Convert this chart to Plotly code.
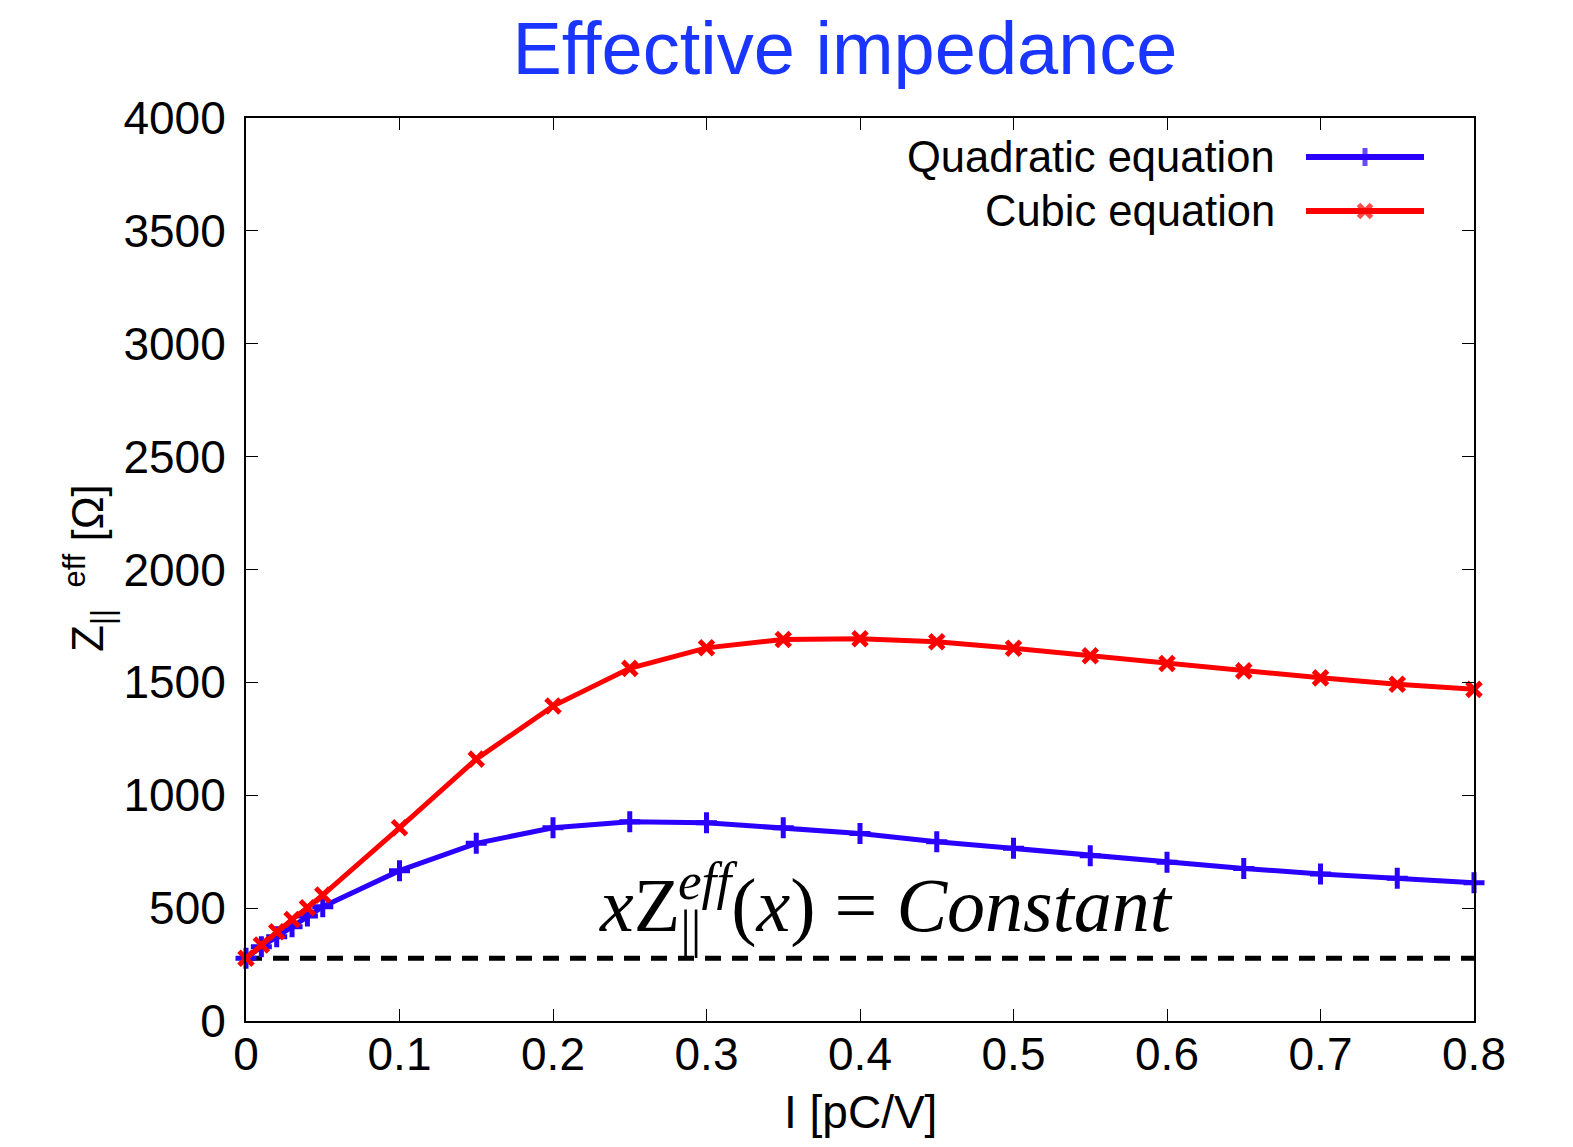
import plotly.graph_objects as go

# Beam intensity I [pC/V]
intensity = [0.0, 0.01, 0.02, 0.03, 0.04, 0.05, 0.1, 0.15, 0.2, 0.25, 0.3, 0.35,
             0.4, 0.45, 0.5, 0.55, 0.6, 0.65, 0.7, 0.75, 0.8]

# Effective impedance [Ohm] from the two models
z_quadratic = [278, 329, 373, 418, 465, 506, 666, 787, 856, 883, 878, 856,
               831, 794, 765, 732, 703, 676, 651, 632, 612]
z_cubic = [278, 337, 395, 450, 502, 558, 856, 1160, 1395, 1562, 1653, 1690,
           1693, 1680, 1651, 1618, 1584, 1551, 1520, 1492, 1469]

# Constant-product reference level
z_const = 278

y_ticks = [0, 500, 1000, 1500, 2000, 2500, 3000, 3500, 4000]
x_ticks = [0, 0.1, 0.2, 0.3, 0.4, 0.5, 0.6, 0.7, 0.8]

W, H = 1573, 1147
L, R, T, B = 246, 1474, 118, 1021          # plot-area edges in pixels
PW, PH = R - L, B - T


def px(xp):
    return (xp - L) / PW


def py(yp):
    return (B - yp) / PH


SANS = "Liberation Sans, Arial, sans-serif"
SERIF = "Liberation Serif, Times New Roman, serif"
BLUE = "#2a00ff"
RED = "#ff0000"
CLEAR = "rgba(0,0,0,0)"

fig = go.Figure()

fig.add_trace(go.Scatter(
    x=[intensity[0], intensity[-1]], y=[z_const, z_const], mode="lines",
    line=dict(color="black", width=5, dash="16px,11px"),
    showlegend=False, cliponaxis=False))

fig.add_trace(go.Scatter(
    x=intensity, y=z_quadratic, mode="lines+markers", name="Quadratic equation",
    line=dict(color=BLUE, width=5),
    marker=dict(symbol="cross-thin", size=15, line=dict(color=BLUE, width=5)),
    showlegend=False, cliponaxis=False))

fig.add_trace(go.Scatter(
    x=intensity, y=z_cubic, mode="lines+markers", name="Cubic equation",
    line=dict(color=RED, width=5),
    marker=dict(symbol="x-thin", size=14, line=dict(color=RED, width=5)),
    showlegend=False, cliponaxis=False))

# Key samples (text on the left, line sample with marker on the right)
keys = [("Quadratic equation", BLUE, "cross-thin", 157),
        ("Cubic equation", RED, "x-thin", 211)]
for label, col, sym, yk in keys:
    fig.add_trace(go.Scatter(
        x=[px(1306), px(1365), px(1424)], y=[py(yk)] * 3,
        xaxis="x2", yaxis="y2", mode="lines+markers",
        line=dict(color=col, width=6),
        marker=dict(symbol=sym, size=[0, 13, 0], line=dict(color=col, width=5)),
        showlegend=False, hoverinfo="skip", cliponaxis=False))
    fig.add_annotation(x=px(1277), y=py(yk), xref="paper", yref="paper",
                       xanchor="right", yanchor="middle", showarrow=False,
                       text=label, font=dict(family=SANS, size=43.5, color="black"))

axis_common = dict(showline=True, linecolor="black", linewidth=2, mirror="allticks",
                   ticks="inside", ticklen=12, tickwidth=1, tickcolor="black",
                   showgrid=False, zeroline=False,
                   tickfont=dict(family=SANS, size=46, color="black"))

fig.update_layout(
    width=W, height=H,
    margin=dict(l=L, r=W - R, t=T, b=H - B),
    paper_bgcolor="white", plot_bgcolor="white",
    title=dict(text="Effective impedance", x=845 / W, xref="container", xanchor="center",
               y=1 - 48 / H, yref="container", yanchor="middle",
               font=dict(family=SANS, size=74, color="#1a35ff")),
    xaxis=dict(range=[0, 0.8], tickvals=x_ticks, ticktext=[f"{v:g}" for v in x_ticks],
               ticklabelstandoff=-8, **axis_common),
    yaxis=dict(range=[0, 4000], tickvals=y_ticks, ticklabelstandoff=9, **axis_common),
    xaxis2=dict(overlaying="x", range=[0, 1], visible=False),
    yaxis2=dict(overlaying="y", range=[0, 1], visible=False),
    showlegend=False,
)

# x-axis title
fig.add_annotation(x=px(860), y=py(1112), xref="paper", yref="paper",
                   xanchor="center", yanchor="middle", showarrow=False,
                   text="I [pC/V]", font=dict(family=SANS, size=46, color="black"))

# y-axis title: Z with stacked || subscript and eff superscript
ghost = f"<span style='color:{CLEAR}'>"
fig.add_annotation(x=px(88), y=py(598), xref="paper", yref="paper",
                   xanchor="center", yanchor="top", showarrow=False, textangle=-90,
                   text=f"Z<sub>||</sub><sup>{ghost}f</span></sup>",
                   font=dict(family=SANS, size=44, color="black"))
fig.add_annotation(x=px(88), y=py(598), xref="paper", yref="paper",
                   xanchor="center", yanchor="bottom", showarrow=False, textangle=-90,
                   text=f"<sub>{ghost}|</span></sub><sup>eff</sup> [Ω]",
                   font=dict(family=SANS, size=44, color="black"))

# Relation x·Z(x) = Constant written over the plot
fig.add_annotation(x=px(597), y=py(905), xref="paper", yref="paper",
                   xanchor="left", yanchor="middle", showarrow=False,
                   text=f"<i>x</i>Z<sub>||</sub><sup>{ghost}f</span></sup>",
                   font=dict(family=SERIF, size=76, color="black"))
fig.add_annotation(x=px(676), y=py(905), xref="paper", yref="paper",
                   xanchor="left", yanchor="middle", showarrow=False,
                   text=f"<sup><i>eff</i></sup>(<i>x</i>) = <i>Constant</i><sub>{ghost}|</span></sub>",
                   font=dict(family=SERIF, size=76, color="black"))

fig.write_html("out.html")
